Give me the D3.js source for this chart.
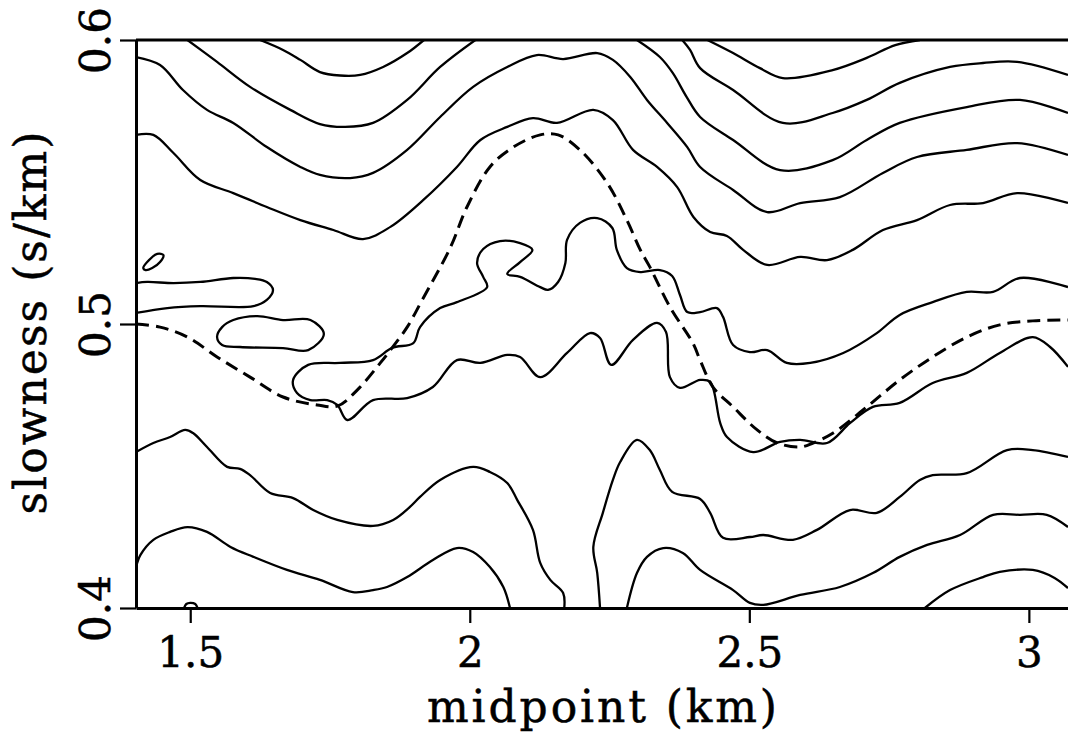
<!DOCTYPE html>
<html>
<head>
<meta charset="utf-8">
<script src="https://cdn.jsdelivr.net/npm/d3@7"></script>
<style>
  body { margin: 0; background: #fff; }
  svg text { font-family: "DejaVu Serif", serif; fill: #000; stroke: #000; stroke-width: 0.5px; }
</style>
</head>
<body>
<svg id="chart" width="1068" height="733"></svg>
<script>
// ticks
const xTicks = [1.5, 2, 2.5, 3];
const yTicks = [0.4, 0.5, 0.6];

// contour lines, [midpoint (km), slowness (s/km)]
const topLoopLeft = [[1.625,0.600],[1.666,0.5965],[1.697,0.593],[1.732,0.5887],[1.768,0.5875],[1.804,0.5877],[1.845,0.5905],[1.888,0.5954],[1.918,0.600]];
const topLoopLeft2 = [[1.495,0.600],[1.548,0.5923],[1.607,0.5835],[1.679,0.5754],[1.732,0.5704],[1.777,0.5694],[1.827,0.5708],[1.888,0.5789],[1.947,0.5905],[2.010,0.600]];
const upper1 = [[1.403,0.594],[1.446,0.5912],[1.487,0.5824],[1.530,0.5754],[1.577,0.5708],[1.637,0.5623],[1.697,0.5553],[1.732,0.5525],[1.786,0.5514],[1.827,0.5532],[1.888,0.5613],[1.947,0.5729],[2.006,0.5835],[2.067,0.5905],[2.120,0.5947],[2.167,0.5933],[2.228,0.5954],[2.256,0.593],[2.287,0.587],[2.317,0.5789],[2.353,0.5708],[2.389,0.5623],[2.412,0.5553],[2.471,0.5472],[2.532,0.5394],[2.591,0.5426],[2.662,0.5447],[2.739,0.5532],[2.800,0.5588],[2.889,0.5613],[2.979,0.5637],[3.070,0.5595]];
const upper2 = [[1.403,0.5666],[1.434,0.5666],[1.470,0.5602],[1.518,0.5507],[1.577,0.5461],[1.637,0.5412],[1.697,0.5366],[1.756,0.5331],[1.809,0.5299],[1.858,0.5342],[1.917,0.5437],[1.977,0.5553],[2.019,0.5648],[2.067,0.5694],[2.113,0.5725],[2.156,0.5708],[2.221,0.5754],[2.256,0.5718],[2.292,0.5613],[2.335,0.5553],[2.371,0.5482],[2.400,0.5377],[2.430,0.5324],[2.460,0.531],[2.489,0.5261],[2.532,0.5208],[2.591,0.5236],[2.639,0.5225],[2.685,0.5261],[2.739,0.5331],[2.800,0.5366],[2.859,0.5419],[2.918,0.5426],[2.979,0.5461],[3.070,0.5426]];
const rightA = [[2.380,0.600],[2.394,0.5965],[2.412,0.5901],[2.471,0.5824],[2.560,0.5708],[2.649,0.5743],[2.710,0.5789],[2.769,0.5849],[2.859,0.5905],[2.918,0.5919],[2.979,0.5923],[3.070,0.5877]];
const rightB = [[2.299,0.600],[2.340,0.594],[2.363,0.5884],[2.388,0.5799],[2.412,0.5729],[2.471,0.5648],[2.555,0.5542],[2.649,0.5577],[2.710,0.5648],[2.769,0.5708],[2.889,0.5764],[2.984,0.5789],[3.070,0.5743]];
const topLoopRight = [[2.425,0.600],[2.471,0.5954],[2.519,0.5901],[2.560,0.5866],[2.649,0.5894],[2.710,0.5937],[2.761,0.5982],[2.805,0.600]];
const leftLobe = [[1.403,0.5144],[1.423,0.5148],[1.470,0.5144],[1.518,0.5148],[1.577,0.5162],[1.616,0.5159],[1.637,0.5148],[1.648,0.512],[1.637,0.5085],[1.613,0.5063],[1.518,0.5063],[1.459,0.5056],[1.403,0.5039]];
const middle = [[3.070,0.5130],[2.984,0.5162],[2.936,0.5113],[2.889,0.5113],[2.828,0.5077],[2.769,0.5032],[2.728,0.4968],[2.668,0.4898],[2.609,0.4863],[2.567,0.4863],[2.532,0.4908],[2.501,0.4901],[2.471,0.4926],[2.453,0.5025],[2.442,0.5056],[2.412,0.5042],[2.389,0.5042],[2.376,0.5102],[2.362,0.5169],[2.340,0.519],[2.305,0.5183],[2.281,0.5197],[2.263,0.5261],[2.255,0.5338],[2.228,0.5373],[2.197,0.5356],[2.174,0.5296],[2.171,0.5215],[2.158,0.5148],[2.140,0.512],[2.126,0.513],[2.090,0.5166],[2.067,0.5176],[2.090,0.5218],[2.112,0.5261],[2.090,0.5285],[2.054,0.5292],[2.024,0.5264],[2.013,0.5215],[2.024,0.5166],[2.031,0.513],[1.977,0.5077],[1.947,0.5056],[1.911,0.4989],[1.899,0.4933],[1.861,0.4916],[1.827,0.4873],[1.768,0.4863],[1.711,0.4856],[1.684,0.4803],[1.691,0.4757],[1.715,0.4732],[1.745,0.4732],[1.763,0.4715],[1.781,0.4662],[1.827,0.4732],[1.888,0.4739],[1.934,0.4778],[1.977,0.4873],[2.019,0.4863],[2.067,0.4891],[2.090,0.4884],[2.126,0.4813],[2.174,0.4898],[2.215,0.4968],[2.233,0.4951],[2.253,0.4856],[2.292,0.4944],[2.335,0.5004],[2.351,0.4972],[2.358,0.4813],[2.376,0.4775],[2.412,0.4803],[2.430,0.4796],[2.448,0.4651],[2.460,0.4602],[2.507,0.4549],[2.555,0.4585],[2.591,0.4592],[2.639,0.4581],[2.680,0.4651],[2.721,0.4708],[2.769,0.4722],[2.828,0.4792],[2.889,0.4828],[2.948,0.4898],[3.007,0.4954],[3.038,0.4919],[3.070,0.4849]];
const lower1 = [[1.403,0.4549],[1.434,0.4581],[1.464,0.4602],[1.491,0.4627],[1.505,0.4616],[1.530,0.4567],[1.566,0.4497],[1.589,0.449],[1.607,0.4468],[1.643,0.4405],[1.684,0.4387],[1.720,0.4345],[1.763,0.431],[1.827,0.4289],[1.863,0.431],[1.893,0.4356],[1.911,0.4391],[1.947,0.4451],[2.006,0.4497],[2.036,0.4479],[2.067,0.444],[2.085,0.438],[2.113,0.4275],[2.126,0.4159],[2.144,0.4099],[2.167,0.4053],[2.169,0.400]];
const lower2 = [[1.403,0.4144],[1.411,0.4187],[1.434,0.424],[1.464,0.4268],[1.495,0.4285],[1.530,0.4268],[1.572,0.4215],[1.613,0.418],[1.673,0.4134],[1.732,0.4099],[1.791,0.4056],[1.827,0.4063],[1.852,0.4074],[1.888,0.4109],[1.934,0.4169],[1.977,0.4211],[2.006,0.4197],[2.036,0.4144],[2.060,0.4074],[2.072,0.400]];
const bottomBump = [[1.489,0.400],[1.493,0.4014],[1.500,0.4018],[1.509,0.4014],[1.513,0.400]];
const bottom1 = [[2.233,0.400],[2.228,0.4123],[2.221,0.4215],[2.238,0.4335],[2.256,0.4451],[2.269,0.4514],[2.299,0.4592],[2.322,0.4556],[2.340,0.4486],[2.362,0.4409],[2.412,0.4384],[2.430,0.4335],[2.453,0.4247],[2.501,0.425],[2.525,0.4257],[2.578,0.424],[2.621,0.4275],[2.680,0.4345],[2.728,0.4335],[2.769,0.4391],[2.805,0.4451],[2.828,0.4468],[2.889,0.4475],[2.961,0.4556],[3.007,0.4556],[3.070,0.4532]];
const bottom2 = [[2.281,0.400],[2.299,0.4123],[2.317,0.418],[2.346,0.4211],[2.381,0.4194],[2.412,0.4134],[2.471,0.4063],[2.501,0.4018],[2.525,0.4011],[2.591,0.4046],[2.662,0.4074],[2.721,0.4123],[2.769,0.418],[2.818,0.4222],[2.877,0.4257],[2.936,0.4328],[2.984,0.4328],[3.032,0.4328],[3.070,0.4285]];
const bottom3 = [[2.814,0.400],[2.859,0.4063],[2.918,0.4109],[2.948,0.4127],[3.007,0.4134],[3.046,0.4106],[3.070,0.407]];

// closed islands
const islandSmall = [[1.416,0.5197],[1.423,0.5218],[1.441,0.5247],[1.452,0.5243],[1.446,0.5218],[1.432,0.5197],[1.420,0.519]];
const islandLeft = [[1.548,0.4954],[1.557,0.4989],[1.577,0.5014],[1.620,0.5028],[1.666,0.5014],[1.715,0.5014],[1.739,0.4965],[1.711,0.4908],[1.666,0.4915],[1.589,0.4919],[1.557,0.4926]];

// dashed curve
const dashedCurve = [[1.403,0.500],[1.446,0.4989],[1.495,0.4954],[1.548,0.4884],[1.607,0.4813],[1.666,0.4743],[1.727,0.4715],[1.763,0.4711],[1.799,0.4768],[1.840,0.4863],[1.861,0.4916],[1.888,0.4989],[1.915,0.5085],[1.965,0.5268],[1.995,0.5412],[2.036,0.5553],[2.078,0.5623],[2.126,0.5666],[2.158,0.5666],[2.197,0.5613],[2.246,0.5496],[2.281,0.5366],[2.305,0.5261],[2.322,0.5201],[2.358,0.506],[2.399,0.4933],[2.412,0.4873],[2.435,0.4778],[2.471,0.4708],[2.514,0.4627],[2.550,0.4581],[2.591,0.4567],[2.614,0.4581],[2.650,0.4616],[2.710,0.4708],[2.769,0.4803],[2.828,0.4884],[2.889,0.4954],[2.948,0.4997],[3.007,0.5011],[3.070,0.5014]];

const openContours = [topLoopLeft, topLoopLeft2, upper1, upper2, rightA, rightB, topLoopRight,
  leftLobe, middle, lower1, lower2, bottomBump, bottom1, bottom2, bottom3];
const closedContours = [islandSmall, islandLeft];

const svg = d3.select("#chart");
const x = d3.scaleLinear().domain([1.403, 3.07]).range([136, 1068]);
const y = d3.scaleLinear().domain([0.4, 0.6]).range([608, 40]);

svg.append("clipPath").attr("id", "plot")
  .append("rect")
  .attr("x", x.range()[0]).attr("y", y.range()[1])
  .attr("width", x.range()[1] - x.range()[0])
  .attr("height", y.range()[0] - y.range()[1]);

const line = d3.line().x(d => x(d[0])).y(d => y(d[1])).curve(d3.curveCatmullRom.alpha(0.5));
const loop = d3.line().x(d => x(d[0])).y(d => y(d[1])).curve(d3.curveCatmullRomClosed.alpha(0.5));

const plot = svg.append("g").attr("clip-path", "url(#plot)");

plot.selectAll("path.open")
  .data(openContours)
  .join("path")
  .attr("class", "open")
  .attr("d", line)
  .attr("fill", "none")
  .attr("stroke", "#000")
  .attr("stroke-width", 2.3);

plot.selectAll("path.closed")
  .data(closedContours)
  .join("path")
  .attr("class", "closed")
  .attr("d", loop)
  .attr("fill", "none")
  .attr("stroke", "#000")
  .attr("stroke-width", 2.3);

plot.append("path")
  .datum(dashedCurve)
  .attr("d", line)
  .attr("fill", "none")
  .attr("stroke", "#000")
  .attr("stroke-width", 3)
  .attr("stroke-dasharray", "13,7");

// top frame line
svg.append("line")
  .attr("x1", x.range()[0]).attr("x2", x.range()[1])
  .attr("y1", y(0.6)).attr("y2", y(0.6))
  .attr("stroke", "#000").attr("stroke-width", 3);

// y axis
const yAxis = svg.append("g")
  .attr("transform", `translate(${x.range()[0]},0)`)
  .call(d3.axisLeft(y).tickValues(yTicks).tickSize(16).tickSizeOuter(0).tickFormat(d3.format(".1f")))
  .attr("font-family", "DejaVu Serif").attr("font-size", 42);
yAxis.select(".domain").attr("stroke-width", 3);
yAxis.selectAll(".tick line").attr("stroke-width", 2.2);
yAxis.selectAll(".tick text")
  .attr("x", 0).attr("dy", null)
  .attr("transform", "translate(-26,0) rotate(-90)")
  .attr("text-anchor", "middle");

// x axis
const xAxis = svg.append("g")
  .attr("transform", `translate(0,${y.range()[0]})`)
  .call(d3.axisBottom(x).tickValues(xTicks).tickSize(15).tickSizeOuter(0).tickFormat(d => String(d)))
  .attr("font-family", "DejaVu Serif").attr("font-size", 42);
xAxis.select(".domain").attr("stroke-width", 3);
xAxis.selectAll(".tick line").attr("stroke-width", 2.2);
xAxis.selectAll(".tick text").attr("y", 59).attr("dy", null);

// titles
svg.append("text")
  .attr("x", 602).attr("y", 722)
  .attr("text-anchor", "middle")
  .attr("font-size", 44)
  .attr("textLength", 350).attr("lengthAdjust", "spacing")
  .text("midpoint (km)");

svg.append("text")
  .attr("transform", "translate(46,323) rotate(-90)")
  .attr("text-anchor", "middle")
  .attr("font-size", 44)
  .attr("textLength", 383).attr("lengthAdjust", "spacing")
  .text("slowness (s/km)");
</script>
</body>
</html>
